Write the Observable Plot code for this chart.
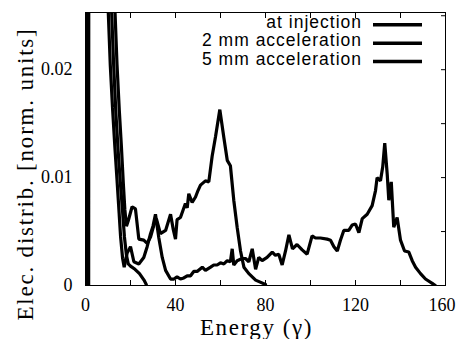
<!DOCTYPE html>
<html><head><meta charset="utf-8">
<script src="https://cdn.jsdelivr.net/npm/d3@7"></script>
<script src="https://cdn.jsdelivr.net/npm/@observablehq/plot@0.6"></script>
<style>body{margin:0;background:#fff} svg{display:block}
.serifText text{font-family:'Liberation Serif','Times New Roman',serif !important}
</style>
</head><body><div id="chart"></div>
<script>
const seriesNames = ["at injection", "2 mm acceleration", "5 mm acceleration"];

const injectionEnergy = [0.7, 1.2, 11.5, 12.5, 13.5, 14.5, 15.5, 16.5, 17.3, 18.2, 19, 20, 22, 24, 26, 27];
const injectionValue  = [0, 0.3, 0.026, 0.0205, 0.016, 0.0125, 0.0095, 0.0068, 0.0045, 0.0028, 0.002, 0.0018, 0.0015, 0.0011, 0.0005, 0.0001];

const accel2Energy = [1.0, 1.5, 13, 14, 15, 16, 16.8, 17.5, 18.2, 19, 20.7, 22.2, 23.7, 25.9, 27.4, 28.9, 30.4, 31.5, 33.3, 35.6, 37.8, 39, 40, 40.7, 42.2, 44.4, 45.2, 45.9, 47.4, 48.9, 50, 51.1, 53.3, 54.8, 56.3, 57.8, 59.7, 61.5, 63, 64.4, 65.9, 67.4, 68.9, 70.4, 72.6, 75.6, 80];
const accel2Value  = [0, 0.3, 0.026, 0.0205, 0.0163, 0.0127, 0.0095, 0.007, 0.0055, 0.006, 0.0073, 0.0071, 0.0043, 0.0042, 0.0039, 0.0045, 0.0056, 0.0062, 0.0048, 0.0051, 0.0066, 0.0052, 0.0043, 0.0061, 0.0063, 0.0076, 0.0072, 0.0085, 0.0077, 0.0082, 0.0088, 0.0093, 0.0097, 0.0096, 0.012, 0.0138, 0.0163, 0.0137, 0.0116, 0.0111, 0.0079, 0.0054, 0.0032, 0.0017, 0.0011, 0.0005, 0.0001];

const accel5Energy = [1.4, 1.9, 10, 11, 12, 13, 14, 14.8, 15.6, 16.5, 17.2, 18.5, 20, 21.5, 23.7, 25.9, 27.4, 28.9, 30, 31.1, 32.6, 34.1, 35.6, 37.8, 39.3, 40.7, 42.2, 43.7, 45.2, 46.7, 48.1, 49.6, 51.9, 53.3, 55.6, 57, 58.5, 60, 61.5, 63, 64.4, 65.2, 65.9, 67.4, 69.6, 71.1, 72.6, 74.1, 75.6, 77, 78.5, 80.7, 83, 84.4, 85.9, 87.4, 88.9, 90.4, 92, 94, 96.3, 98.5, 100.7, 102.2, 104.4, 107.4, 108.9, 110.4, 111.9, 113.3, 114.8, 117, 118.5, 120, 121.5, 123, 125.2, 127.4, 128.9, 129.6, 131.1, 132.1, 133, 134.1, 134.8, 135.9, 137, 138.5, 140, 141.8, 143.7, 145.2, 146.7, 148.9, 151.1, 154.1, 155.5];
const accel5Value  = [0, 0.3, 0.026, 0.0205, 0.0165, 0.013, 0.0098, 0.0072, 0.0045, 0.0025, 0.0017, 0.003, 0.0036, 0.0022, 0.002, 0.0026, 0.0036, 0.0048, 0.0055, 0.0066, 0.0044, 0.0026, 0.0014, 0.0006, 0.0006, 0.0008, 0.0006, 0.0007, 0.0009, 0.0009, 0.0013, 0.0013, 0.0017, 0.0014, 0.0017, 0.0019, 0.0019, 0.0021, 0.002, 0.0023, 0.0022, 0.0034, 0.0019, 0.0023, 0.0025, 0.0025, 0.0022, 0.0034, 0.0015, 0.0026, 0.0023, 0.0026, 0.0031, 0.0028, 0.0029, 0.0019, 0.0032, 0.0047, 0.0034, 0.0038, 0.0033, 0.0029, 0.0046, 0.0044, 0.0044, 0.0043, 0.0042, 0.0036, 0.0032, 0.0042, 0.0051, 0.0051, 0.0056, 0.0057, 0.0049, 0.0062, 0.0066, 0.0074, 0.0088, 0.01, 0.0097, 0.011, 0.0132, 0.0103, 0.0079, 0.0096, 0.0054, 0.0063, 0.0042, 0.0032, 0.0031, 0.0023, 0.0017, 0.0011, 0.0006, 0.0002, 0];

const xTicks = [0, 20, 40, 60, 80, 100, 120, 140, 160];
const xTickLabels = [0, 40, 80, 120, 160];
const yTicks = [0, 0.005, 0.01, 0.015, 0.02, 0.025];
const yTickLabels = [0, 0.01, 0.02];
const xLabel = "Energy (γ)";
const yLabel = "Elec. distrib. [norm. units]";

const energies = [injectionEnergy, accel2Energy, accel5Energy];
const values = [injectionValue, accel2Value, accel5Value];
const data = seriesNames.flatMap((s, i) => energies[i].map((e, j) => ({series: s, energy: e, value: values[i][j]})));

const serif = "'Liberation Serif', 'Times New Roman', serif";
const sans = "'Liberation Sans', Arial, sans-serif";

const svg = Plot.plot({
  width: 456, height: 339,
  marginLeft: 85, marginRight: 11, marginTop: 12, marginBottom: 54,
  x: {domain: [0, 160]},
  y: {domain: [0, 0.0253]},
  style: {background: "#fff", color: "#000"},
  marks: [
    Plot.line(data, {x: "energy", y: "value", z: "series", stroke: "#000", strokeWidth: 3.2, clip: true, strokeLinejoin: "miter"}),
    Plot.frame({stroke: "#000", strokeWidth: 1}),
    Plot.axisX({anchor: "bottom", ticks: xTicks, tickSize: -5, tickFormat: () => "", label: null}),
    Plot.axisX({anchor: "top", ticks: xTicks, tickSize: -5, tickFormat: () => "", label: null}),
    Plot.axisY({anchor: "left", ticks: yTicks, tickSize: -5, tickFormat: () => "", label: null}),
    Plot.axisY({anchor: "right", ticks: yTicks, tickSize: -5, tickFormat: () => "", label: null}),
    Plot.axisX({anchor: "bottom", ticks: xTickLabels, tickSize: 0, tickPadding: 13, fontSize: 18, fontFamily: serif, label: null, tickFormat: d => String(d), className: "xtl serifText"}),
    Plot.axisY({anchor: "left", ticks: yTickLabels, tickSize: 0, tickPadding: 13, fontSize: 18, fontFamily: serif, label: null, tickFormat: d => String(d), className: "ytl serifText"}),
    Plot.text([xLabel], {text: d => d, frameAnchor: "bottom", textAnchor: "middle", dx: -9, dy: 42, lineAnchor: "middle", fontSize: 23, fontFamily: serif, fill: "#000", className: "xlab serifText"}),
    Plot.text([yLabel], {text: d => d, frameAnchor: "left", textAnchor: "middle", rotate: -90, dx: -60, dy: 25, lineAnchor: "middle", fontSize: 23, fontFamily: serif, fill: "#000", className: "ylab serifText"})
  ]
});

const s = d3.select(svg);
s.selectAll(".xlab text").style("letter-spacing", "1.6px");
s.selectAll(".ylab text").style("letter-spacing", "1.8px");
// keep the last x tick label inside the picture, as in the reference
s.selectAll(".xtl text").filter(function() { return this.textContent === "160"; })
  .attr("text-anchor", "end").attr("dx", 10);

// legend
const legendBaselines = [27.5, 46, 65];
const legendLineY = [24.7, 43.3, 61.5];
const lg = s.append("g").attr("class", "legend");
seriesNames.forEach((name, i) => {
  lg.append("text").attr("x", 362).attr("y", legendBaselines[i]).attr("text-anchor", "end")
    .attr("font-family", sans).attr("font-size", 17.5).style("letter-spacing", "1px").attr("fill", "#000").text(name);
  lg.append("line").attr("x1", 373).attr("x2", 422).attr("y1", legendLineY[i]).attr("y2", legendLineY[i])
    .attr("stroke", "#000").attr("stroke-width", 3.5);
});

document.getElementById("chart").appendChild(svg);
</script>
</body></html>
